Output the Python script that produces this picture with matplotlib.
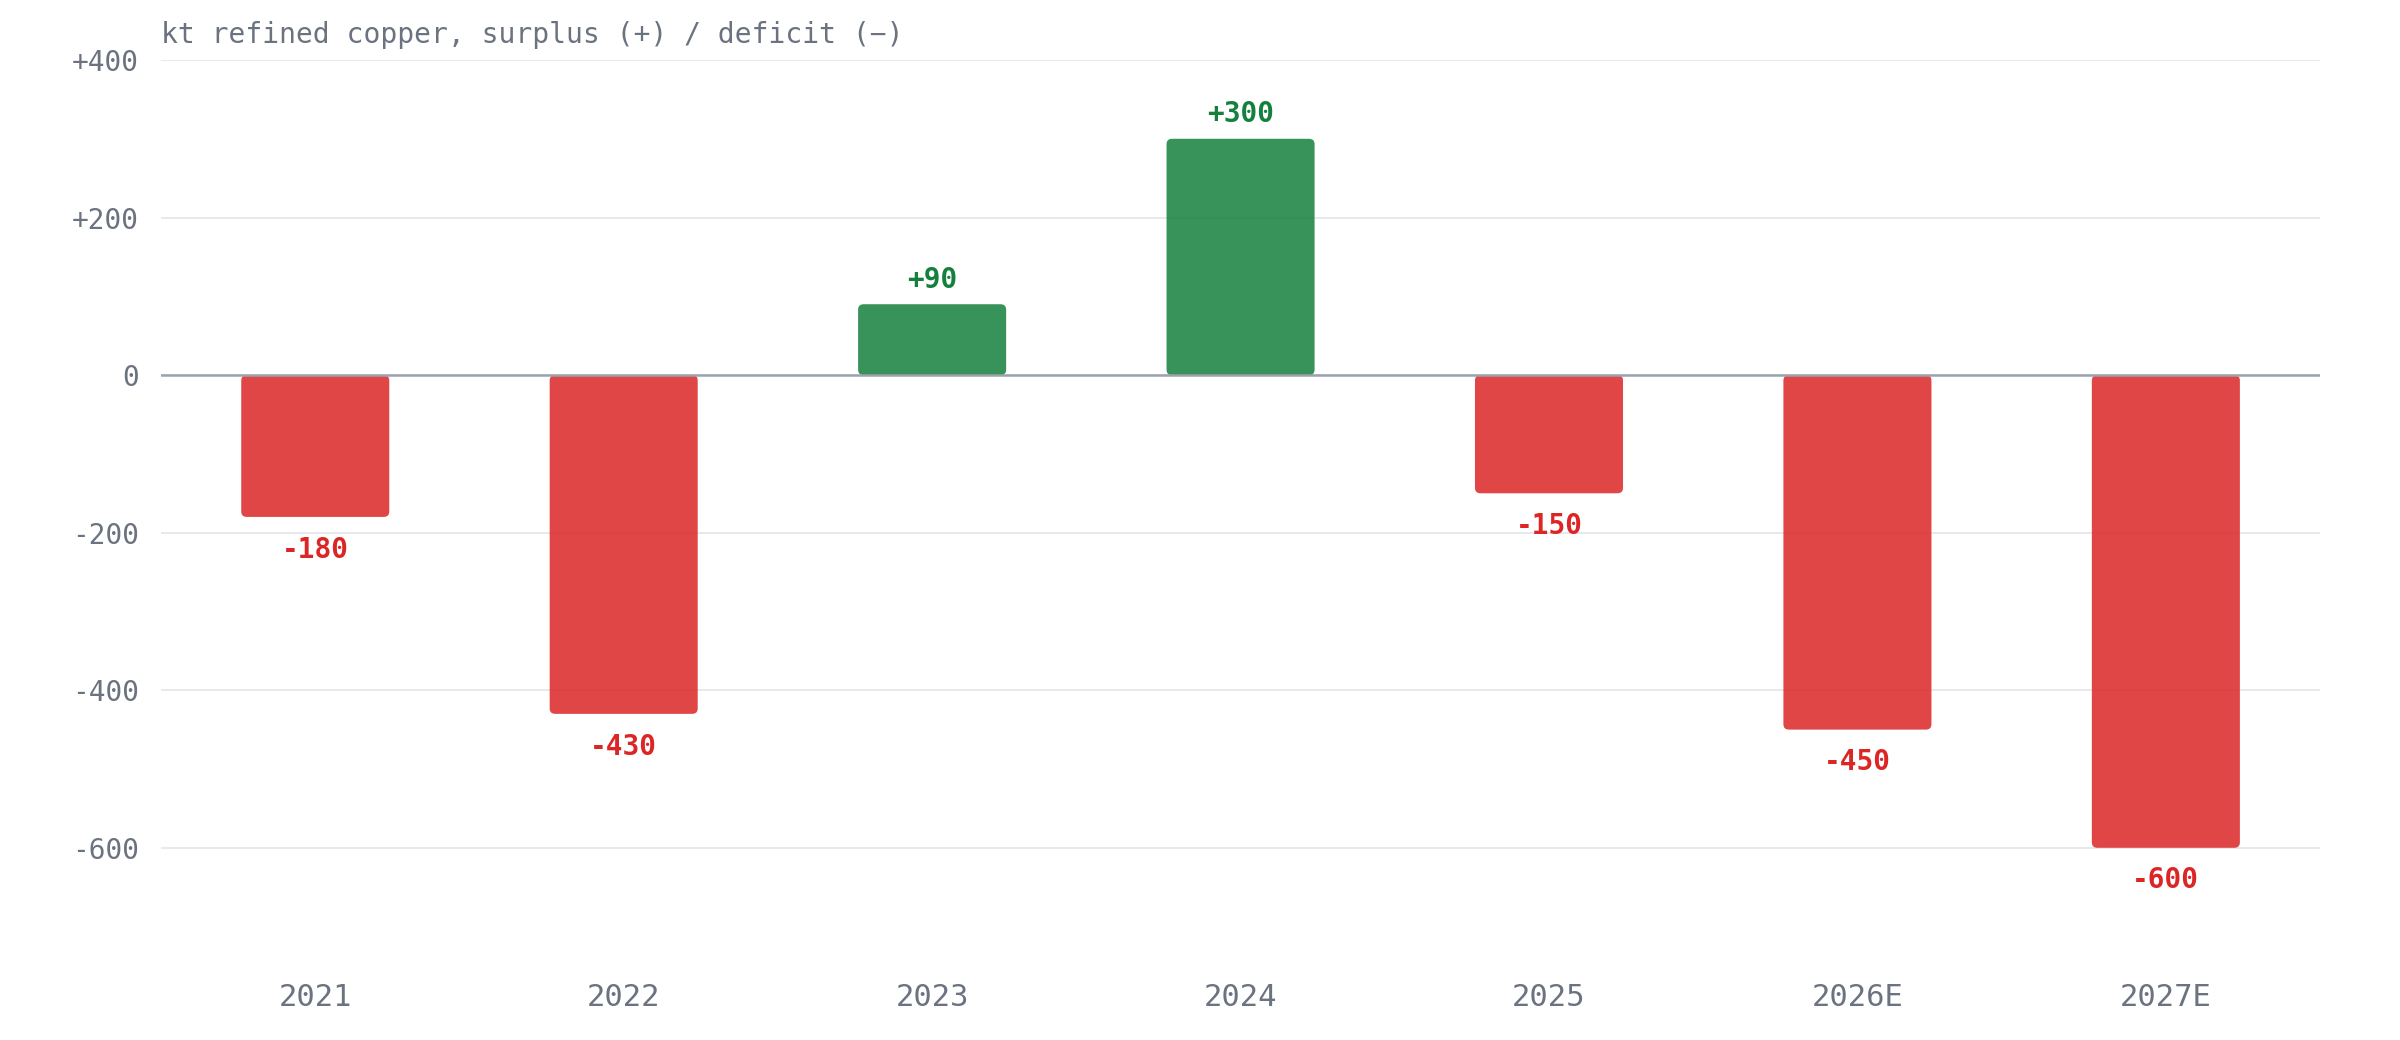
import matplotlib
matplotlib.use("Agg")
import matplotlib.pyplot as plt
from matplotlib.patches import FancyBboxPatch

years = ["2021", "2022", "2023", "2024", "2025", "2026E", "2027E"]
balance = [-180, -430, 90, 300, -150, -450, -600]
yticks = [400, 200, 0, -200, -400, -600]
ytick_labels = ["+400", "+200", "0", "-200", "-400", "-600"]
subtitle = "kt refined copper, surplus (+) / deficit (\u2212)"

RED_BAR = "#dc2626"
GREEN_BAR = "#15803d"
RED_TXT = "#dc2626"
GREEN_TXT = "#15803d"
GRAY = "#6b7280"

plt.rcParams['font.family'] = ['DejaVu Sans Mono', 'DejaVu Sans']

fig = plt.figure(figsize=(24, 10.4), dpi=100)
ax = fig.add_axes([0.0671, 0.0712, 0.8996, 0.8711])

x = list(range(len(years)))
bars = ax.bar(x, balance, width=0.48, color="none")

# swap plain bars for rounded ones, same geometry
for b, v in zip(bars, balance):
    b.set_visible(False)
    col = GREEN_BAR if v > 0 else RED_BAR
    p = FancyBboxPatch((b.get_x(), min(0, v)), b.get_width(), abs(v),
                       boxstyle="round,pad=0,rounding_size=0.018",
                       mutation_aspect=380, facecolor=col, alpha=0.85,
                       edgecolor="none", zorder=3)
    ax.add_patch(p)
    lab = ("+%d" % v) if v > 0 else ("%d" % v)
    off = 17.5 if v > 0 else -23.5
    ax.annotate(lab, (b.get_x() + b.get_width() / 2, v), xytext=(0, off),
                textcoords="offset points", ha="center", va="center",
                fontsize=20, fontweight="bold",
                color=GREEN_TXT if v > 0 else RED_TXT, zorder=4)

ax.axhline(0, color="#9ca3af", lw=1.8, zorder=4)
ax.set_ylim(-750, 400)
ax.set_xlim(-0.5, len(years) - 0.5)
ax.set_yticks(yticks)
ax.set_yticklabels(ytick_labels)
ax.set_xticks(x)
ax.set_xticklabels(years)
ax.grid(axis="y", color="#e5e7eb", lw=1.3, zorder=0)
ax.set_axisbelow(True)
for s in ax.spines.values():
    s.set_visible(False)
ax.tick_params(axis="y", length=0, pad=16, labelsize=20, labelcolor=GRAY)
ax.tick_params(axis="x", length=0, pad=12, labelsize=22, labelcolor=GRAY)

ax.text(0, 1.012, subtitle, transform=ax.transAxes, ha="left", va="bottom",
        fontsize=20.2, color=GRAY)

fig.savefig("out.png", dpi=100, facecolor="white")
